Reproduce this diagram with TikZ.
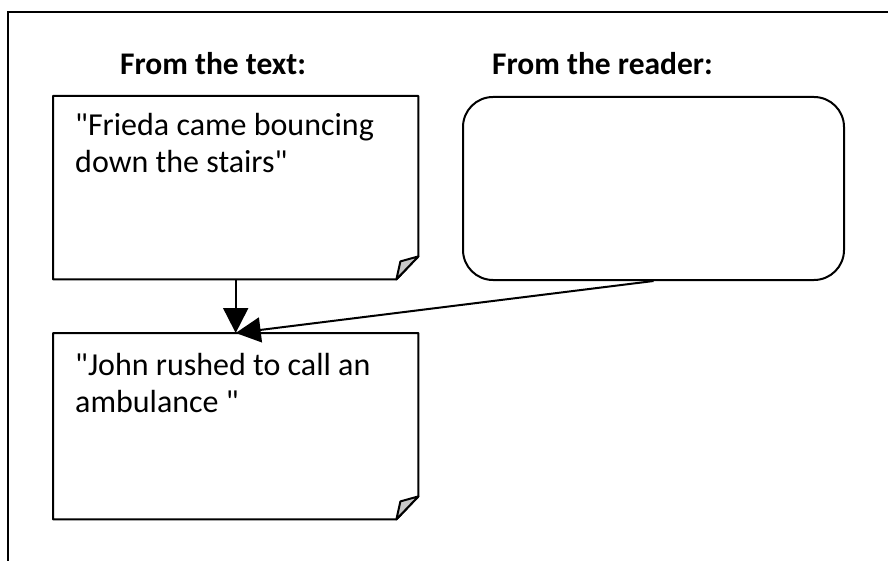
\documentclass[tikz,border=0pt]{standalone}
\usepackage{fontspec}
\setmainfont{Carlito}[Ligatures=TeXOff]
\usetikzlibrary{arrows.meta,calc}

\definecolor{foldgray}{RGB}{200,200,200}

\tikzset{
  frameline/.style={line width=1.4pt, black},
  noteline/.style={line width=2pt, black, line join=round},
  notebox/.style={draw=none, inner sep=0pt, anchor=north west,
    minimum width=365pt},
  readerbox/.style={draw, line width=2pt, rounded corners=30pt, inner sep=0pt,
    anchor=north west, minimum width=381pt, minimum height=183pt},
  heading/.style={font=\fontsize{31.5}{36}\selectfont\bfseries, inner sep=0pt,
    anchor=base west},
  notetext/.style={font=\fontsize{32}{37}\selectfont, inner sep=0pt,
    anchor=north west, align=left},
  link/.style={line width=2pt, -{Triangle[length=25pt,width=25pt]}},
}

% outline of a note with its lower right corner folded up
\newcommand\foldednote[1]{%
  \draw[noteline] (#1.north west) -- (#1.north east)
    -- ([yshift=23pt]#1.south east) -- ([xshift=-22pt]#1.south east)
    -- (#1.south west) -- cycle;
  \filldraw[noteline, fill=foldgray] ([yshift=23pt]#1.south east)
    -- ([shift={(-18pt,18pt)}]#1.south east)
    -- ([xshift=-22pt]#1.south east) -- cycle;
}

\begin{document}
\begin{tikzpicture}[x=1pt, y=1pt]
  \useasboundingbox (0,0) rectangle (888,-561);

  % open frame: top and left edges only
  \draw[frameline] (888,-12) -- (8,-12) -- (8,-561);

  % column headings
  \node[heading] (texthead) at (120,-75) {From the text:};
  \node[heading] (readerhead) at (492,-75) {From the reader:};

  % note from the text
  \node[notebox, minimum height=183pt] (quote) at (53,-96) {};
  \foldednote{quote}
  \node[notetext] (quotetext) at ([shift={(22pt,-17pt)}]quote.north west)
    {"Frieda came bouncing\\down the stairs"};

  % empty box for the reader's knowledge
  \node[readerbox] (reader) at (462,-96) {};

  % resulting inference
  \node[notebox, minimum height=186pt] (result) at (53,-333) {};
  \foldednote{result}
  \node[notetext] (resulttext) at ([shift={(22pt,-20pt)}]result.north west)
    {"John rushed to call an\\ambulance "};

  % connectors
  \draw[link] (quote.south) -- (result.north);
  \draw[link] (reader.south) -- (result.north);
\end{tikzpicture}
\end{document}
